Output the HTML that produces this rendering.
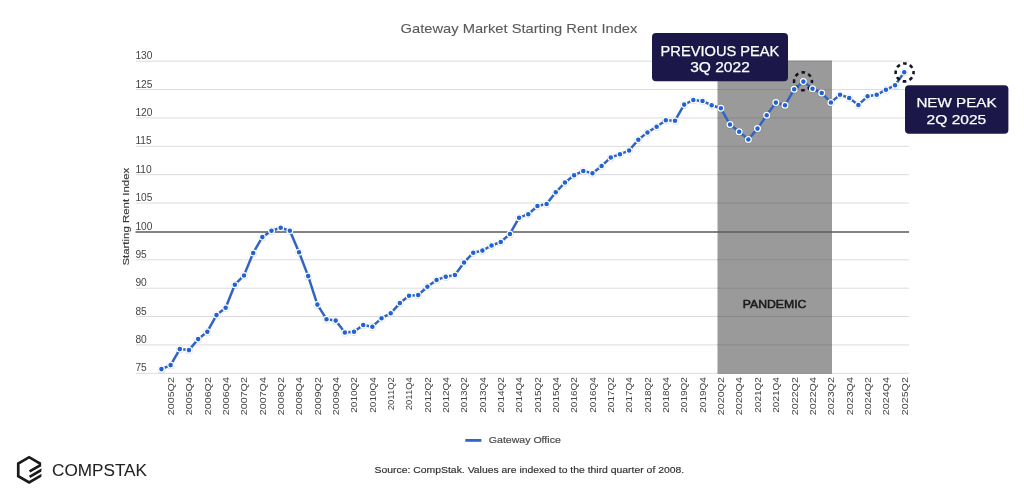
<!DOCTYPE html>
<html><head><meta charset="utf-8"><style>
html,body{margin:0;padding:0;background:#fff;}
body{width:1024px;height:492px;overflow:hidden;}
svg{display:block;font-family:"Liberation Sans", sans-serif;will-change:transform;}
</style></head><body>
<svg width="1024" height="492" viewBox="0 0 1024 492">
<line x1="136" x2="909" y1="373.30" y2="373.30" stroke="#dcdcdc" stroke-width="1"/>
<line x1="136" x2="909" y1="344.93" y2="344.93" stroke="#dcdcdc" stroke-width="1"/>
<line x1="136" x2="909" y1="316.55" y2="316.55" stroke="#dcdcdc" stroke-width="1"/>
<line x1="136" x2="909" y1="288.18" y2="288.18" stroke="#dcdcdc" stroke-width="1"/>
<line x1="136" x2="909" y1="259.81" y2="259.81" stroke="#dcdcdc" stroke-width="1"/>
<line x1="136" x2="909" y1="203.06" y2="203.06" stroke="#dcdcdc" stroke-width="1"/>
<line x1="136" x2="909" y1="174.69" y2="174.69" stroke="#dcdcdc" stroke-width="1"/>
<line x1="136" x2="909" y1="146.32" y2="146.32" stroke="#dcdcdc" stroke-width="1"/>
<line x1="136" x2="909" y1="117.95" y2="117.95" stroke="#dcdcdc" stroke-width="1"/>
<line x1="136" x2="909" y1="89.57" y2="89.57" stroke="#dcdcdc" stroke-width="1"/>
<line x1="136" x2="909" y1="61.20" y2="61.20" stroke="#dcdcdc" stroke-width="1"/>
<rect x="717.5" y="60.70" width="114.5" height="312.60" fill="#9a9a9a"/>
<line x1="717.5" x2="832" y1="373.30" y2="373.30" stroke="#8a8a8a" stroke-width="1"/>
<line x1="717.5" x2="832" y1="344.93" y2="344.93" stroke="#8a8a8a" stroke-width="1"/>
<line x1="717.5" x2="832" y1="316.55" y2="316.55" stroke="#8a8a8a" stroke-width="1"/>
<line x1="717.5" x2="832" y1="288.18" y2="288.18" stroke="#8a8a8a" stroke-width="1"/>
<line x1="717.5" x2="832" y1="259.81" y2="259.81" stroke="#8a8a8a" stroke-width="1"/>
<line x1="717.5" x2="832" y1="203.06" y2="203.06" stroke="#8a8a8a" stroke-width="1"/>
<line x1="717.5" x2="832" y1="174.69" y2="174.69" stroke="#8a8a8a" stroke-width="1"/>
<line x1="717.5" x2="832" y1="146.32" y2="146.32" stroke="#8a8a8a" stroke-width="1"/>
<line x1="717.5" x2="832" y1="117.95" y2="117.95" stroke="#8a8a8a" stroke-width="1"/>
<line x1="717.5" x2="832" y1="89.57" y2="89.57" stroke="#8a8a8a" stroke-width="1"/>
<line x1="717.5" x2="832" y1="61.20" y2="61.20" stroke="#8a8a8a" stroke-width="1"/>
<line x1="135.5" x2="909" y1="232.00" y2="232.00" stroke="#5a5a5a" stroke-width="1.6"/>
<text x="135.4" y="371.30" font-size="10.2" fill="#444">75</text>
<text x="135.4" y="342.93" font-size="10.2" fill="#444">80</text>
<text x="135.4" y="314.55" font-size="10.2" fill="#444">85</text>
<text x="135.4" y="286.18" font-size="10.2" fill="#444">90</text>
<text x="135.4" y="257.81" font-size="10.2" fill="#444">95</text>
<text x="135.4" y="230.00" font-size="10.2" fill="#444">100</text>
<text x="135.4" y="201.06" font-size="10.2" fill="#444">105</text>
<text x="135.4" y="172.69" font-size="10.2" fill="#444">110</text>
<text x="135.4" y="144.32" font-size="10.2" fill="#444">115</text>
<text x="135.4" y="115.95" font-size="10.2" fill="#444">120</text>
<text x="135.4" y="87.57" font-size="10.2" fill="#444">125</text>
<text x="135.4" y="59.20" font-size="10.2" fill="#444">130</text>
<text transform="translate(129.3,265.6) rotate(-90)" font-size="9.8" fill="#3a3a3a" stroke="#3a3a3a" stroke-width="0.15" textLength="97.8" lengthAdjust="spacingAndGlyphs">Starting Rent Index</text>
<text transform="translate(173.94,415.20) rotate(-90)" font-size="9.8" fill="#444" textLength="38.10" lengthAdjust="spacingAndGlyphs">2005Q2</text>
<text transform="translate(192.28,415.20) rotate(-90)" font-size="9.8" fill="#444" textLength="38.10" lengthAdjust="spacingAndGlyphs">2005Q4</text>
<text transform="translate(210.62,415.20) rotate(-90)" font-size="9.8" fill="#444" textLength="38.10" lengthAdjust="spacingAndGlyphs">2006Q2</text>
<text transform="translate(228.96,415.20) rotate(-90)" font-size="9.8" fill="#444" textLength="38.10" lengthAdjust="spacingAndGlyphs">2006Q4</text>
<text transform="translate(247.30,415.20) rotate(-90)" font-size="9.8" fill="#444" textLength="38.10" lengthAdjust="spacingAndGlyphs">2007Q2</text>
<text transform="translate(265.64,415.20) rotate(-90)" font-size="9.8" fill="#444" textLength="38.10" lengthAdjust="spacingAndGlyphs">2007Q4</text>
<text transform="translate(283.98,415.20) rotate(-90)" font-size="9.8" fill="#444" textLength="38.10" lengthAdjust="spacingAndGlyphs">2008Q2</text>
<text transform="translate(302.32,415.20) rotate(-90)" font-size="9.8" fill="#444" textLength="38.10" lengthAdjust="spacingAndGlyphs">2008Q4</text>
<text transform="translate(320.66,415.20) rotate(-90)" font-size="9.8" fill="#444" textLength="38.10" lengthAdjust="spacingAndGlyphs">2009Q2</text>
<text transform="translate(339.00,415.20) rotate(-90)" font-size="9.8" fill="#444" textLength="38.10" lengthAdjust="spacingAndGlyphs">2009Q4</text>
<text transform="translate(357.34,412.70) rotate(-90)" font-size="9.8" fill="#444" textLength="35.60" lengthAdjust="spacingAndGlyphs">2010Q2</text>
<text transform="translate(375.68,412.70) rotate(-90)" font-size="9.8" fill="#444" textLength="35.60" lengthAdjust="spacingAndGlyphs">2010Q4</text>
<text transform="translate(394.02,410.20) rotate(-90)" font-size="9.8" fill="#444" textLength="33.10" lengthAdjust="spacingAndGlyphs">2011Q2</text>
<text transform="translate(412.36,410.20) rotate(-90)" font-size="9.8" fill="#444" textLength="33.10" lengthAdjust="spacingAndGlyphs">2011Q4</text>
<text transform="translate(430.70,412.70) rotate(-90)" font-size="9.8" fill="#444" textLength="35.60" lengthAdjust="spacingAndGlyphs">2012Q2</text>
<text transform="translate(449.04,412.70) rotate(-90)" font-size="9.8" fill="#444" textLength="35.60" lengthAdjust="spacingAndGlyphs">2012Q4</text>
<text transform="translate(467.38,412.70) rotate(-90)" font-size="9.8" fill="#444" textLength="35.60" lengthAdjust="spacingAndGlyphs">2013Q2</text>
<text transform="translate(485.72,412.70) rotate(-90)" font-size="9.8" fill="#444" textLength="35.60" lengthAdjust="spacingAndGlyphs">2013Q4</text>
<text transform="translate(504.06,412.70) rotate(-90)" font-size="9.8" fill="#444" textLength="35.60" lengthAdjust="spacingAndGlyphs">2014Q2</text>
<text transform="translate(522.40,412.70) rotate(-90)" font-size="9.8" fill="#444" textLength="35.60" lengthAdjust="spacingAndGlyphs">2014Q4</text>
<text transform="translate(540.74,412.70) rotate(-90)" font-size="9.8" fill="#444" textLength="35.60" lengthAdjust="spacingAndGlyphs">2015Q2</text>
<text transform="translate(559.08,412.70) rotate(-90)" font-size="9.8" fill="#444" textLength="35.60" lengthAdjust="spacingAndGlyphs">2015Q4</text>
<text transform="translate(577.42,412.70) rotate(-90)" font-size="9.8" fill="#444" textLength="35.60" lengthAdjust="spacingAndGlyphs">2016Q2</text>
<text transform="translate(595.76,412.70) rotate(-90)" font-size="9.8" fill="#444" textLength="35.60" lengthAdjust="spacingAndGlyphs">2016Q4</text>
<text transform="translate(614.10,412.70) rotate(-90)" font-size="9.8" fill="#444" textLength="35.60" lengthAdjust="spacingAndGlyphs">2017Q2</text>
<text transform="translate(632.44,412.70) rotate(-90)" font-size="9.8" fill="#444" textLength="35.60" lengthAdjust="spacingAndGlyphs">2017Q4</text>
<text transform="translate(650.78,412.70) rotate(-90)" font-size="9.8" fill="#444" textLength="35.60" lengthAdjust="spacingAndGlyphs">2018Q2</text>
<text transform="translate(669.12,412.70) rotate(-90)" font-size="9.8" fill="#444" textLength="35.60" lengthAdjust="spacingAndGlyphs">2018Q4</text>
<text transform="translate(687.46,412.70) rotate(-90)" font-size="9.8" fill="#444" textLength="35.60" lengthAdjust="spacingAndGlyphs">2019Q2</text>
<text transform="translate(705.80,412.70) rotate(-90)" font-size="9.8" fill="#444" textLength="35.60" lengthAdjust="spacingAndGlyphs">2019Q4</text>
<text transform="translate(724.14,415.20) rotate(-90)" font-size="9.8" fill="#444" textLength="38.10" lengthAdjust="spacingAndGlyphs">2020Q2</text>
<text transform="translate(742.48,415.20) rotate(-90)" font-size="9.8" fill="#444" textLength="38.10" lengthAdjust="spacingAndGlyphs">2020Q4</text>
<text transform="translate(760.82,412.70) rotate(-90)" font-size="9.8" fill="#444" textLength="35.60" lengthAdjust="spacingAndGlyphs">2021Q2</text>
<text transform="translate(779.16,412.70) rotate(-90)" font-size="9.8" fill="#444" textLength="35.60" lengthAdjust="spacingAndGlyphs">2021Q4</text>
<text transform="translate(797.50,415.20) rotate(-90)" font-size="9.8" fill="#444" textLength="38.10" lengthAdjust="spacingAndGlyphs">2022Q2</text>
<text transform="translate(815.84,415.20) rotate(-90)" font-size="9.8" fill="#444" textLength="38.10" lengthAdjust="spacingAndGlyphs">2022Q4</text>
<text transform="translate(834.18,415.20) rotate(-90)" font-size="9.8" fill="#444" textLength="38.10" lengthAdjust="spacingAndGlyphs">2023Q2</text>
<text transform="translate(852.52,415.20) rotate(-90)" font-size="9.8" fill="#444" textLength="38.10" lengthAdjust="spacingAndGlyphs">2023Q4</text>
<text transform="translate(870.86,415.20) rotate(-90)" font-size="9.8" fill="#444" textLength="38.10" lengthAdjust="spacingAndGlyphs">2024Q2</text>
<text transform="translate(889.20,415.20) rotate(-90)" font-size="9.8" fill="#444" textLength="38.10" lengthAdjust="spacingAndGlyphs">2024Q4</text>
<text transform="translate(907.54,415.20) rotate(-90)" font-size="9.8" fill="#444" textLength="38.10" lengthAdjust="spacingAndGlyphs">2025Q2</text>
<text x="742.8" y="307.6" font-size="10.7" fill="#1a1a1a" stroke="#1a1a1a" stroke-width="0.5" textLength="63.6" lengthAdjust="spacingAndGlyphs">PANDEMIC</text>
<polyline points="161.47,369.10 170.64,365.10 179.81,349.10 188.98,350.10 198.15,339.10 207.32,331.70 216.49,315.10 225.66,307.80 234.83,284.70 244.00,275.40 253.17,253.00 262.34,237.10 271.51,230.70 280.68,227.80 289.85,230.70 299.02,252.20 308.19,276.10 317.36,304.60 326.53,319.20 335.70,320.60 344.87,332.40 354.04,331.70 363.21,325.00 372.38,326.70 381.55,318.20 390.72,313.30 399.89,303.10 409.06,295.80 418.23,295.00 427.40,286.70 436.57,279.90 445.74,276.70 454.91,275.00 464.08,262.40 473.25,252.70 482.42,250.60 491.59,245.50 500.76,242.00 509.93,233.90 519.10,217.70 528.27,214.20 537.44,206.00 546.61,203.90 555.78,192.30 564.95,182.50 574.12,175.30 583.29,170.90 592.46,173.20 601.63,166.00 610.80,157.40 619.97,154.30 629.14,150.40 638.31,139.80 647.48,132.40 656.65,126.70 665.82,120.30 674.99,120.70 684.16,104.60 693.33,100.00 702.50,100.90 711.67,105.30 720.84,108.30 730.01,124.50 739.18,131.70 748.35,139.40 757.52,128.60 766.69,115.20 775.86,102.60 785.03,105.20 794.20,89.30 803.37,81.60 812.54,88.80 821.71,93.00 830.88,102.40 840.05,94.80 849.22,97.90 858.39,104.90 867.56,96.30 876.73,94.80 885.90,89.70 895.07,85.30 904.24,72.30" fill="none" stroke="#3164c4" stroke-width="2.5" stroke-linejoin="round"/>
<circle cx="803.0" cy="81.3" r="8.95" fill="none" stroke="#15152a" stroke-width="2.6" stroke-dasharray="3.700 3.329" stroke-dashoffset="1.850"/>
<circle cx="904.6" cy="72.4" r="8.95" fill="none" stroke="#15152a" stroke-width="2.6" stroke-dasharray="3.700 3.329" stroke-dashoffset="1.850"/>
<circle cx="161.47" cy="369.40" r="3.9" fill="rgba(0,0,30,0.13)"/>
<circle cx="170.64" cy="365.40" r="3.9" fill="rgba(0,0,30,0.13)"/>
<circle cx="179.81" cy="349.40" r="3.9" fill="rgba(0,0,30,0.13)"/>
<circle cx="188.98" cy="350.40" r="3.9" fill="rgba(0,0,30,0.13)"/>
<circle cx="198.15" cy="339.40" r="3.9" fill="rgba(0,0,30,0.13)"/>
<circle cx="207.32" cy="332.00" r="3.9" fill="rgba(0,0,30,0.13)"/>
<circle cx="216.49" cy="315.40" r="3.9" fill="rgba(0,0,30,0.13)"/>
<circle cx="225.66" cy="308.10" r="3.9" fill="rgba(0,0,30,0.13)"/>
<circle cx="234.83" cy="285.00" r="3.9" fill="rgba(0,0,30,0.13)"/>
<circle cx="244.00" cy="275.70" r="3.9" fill="rgba(0,0,30,0.13)"/>
<circle cx="253.17" cy="253.30" r="3.9" fill="rgba(0,0,30,0.13)"/>
<circle cx="262.34" cy="237.40" r="3.9" fill="rgba(0,0,30,0.13)"/>
<circle cx="271.51" cy="231.00" r="3.9" fill="rgba(0,0,30,0.13)"/>
<circle cx="280.68" cy="228.10" r="3.9" fill="rgba(0,0,30,0.13)"/>
<circle cx="289.85" cy="231.00" r="3.9" fill="rgba(0,0,30,0.13)"/>
<circle cx="299.02" cy="252.50" r="3.9" fill="rgba(0,0,30,0.13)"/>
<circle cx="308.19" cy="276.40" r="3.9" fill="rgba(0,0,30,0.13)"/>
<circle cx="317.36" cy="304.90" r="3.9" fill="rgba(0,0,30,0.13)"/>
<circle cx="326.53" cy="319.50" r="3.9" fill="rgba(0,0,30,0.13)"/>
<circle cx="335.70" cy="320.90" r="3.9" fill="rgba(0,0,30,0.13)"/>
<circle cx="344.87" cy="332.70" r="3.9" fill="rgba(0,0,30,0.13)"/>
<circle cx="354.04" cy="332.00" r="3.9" fill="rgba(0,0,30,0.13)"/>
<circle cx="363.21" cy="325.30" r="3.9" fill="rgba(0,0,30,0.13)"/>
<circle cx="372.38" cy="327.00" r="3.9" fill="rgba(0,0,30,0.13)"/>
<circle cx="381.55" cy="318.50" r="3.9" fill="rgba(0,0,30,0.13)"/>
<circle cx="390.72" cy="313.60" r="3.9" fill="rgba(0,0,30,0.13)"/>
<circle cx="399.89" cy="303.40" r="3.9" fill="rgba(0,0,30,0.13)"/>
<circle cx="409.06" cy="296.10" r="3.9" fill="rgba(0,0,30,0.13)"/>
<circle cx="418.23" cy="295.30" r="3.9" fill="rgba(0,0,30,0.13)"/>
<circle cx="427.40" cy="287.00" r="3.9" fill="rgba(0,0,30,0.13)"/>
<circle cx="436.57" cy="280.20" r="3.9" fill="rgba(0,0,30,0.13)"/>
<circle cx="445.74" cy="277.00" r="3.9" fill="rgba(0,0,30,0.13)"/>
<circle cx="454.91" cy="275.30" r="3.9" fill="rgba(0,0,30,0.13)"/>
<circle cx="464.08" cy="262.70" r="3.9" fill="rgba(0,0,30,0.13)"/>
<circle cx="473.25" cy="253.00" r="3.9" fill="rgba(0,0,30,0.13)"/>
<circle cx="482.42" cy="250.90" r="3.9" fill="rgba(0,0,30,0.13)"/>
<circle cx="491.59" cy="245.80" r="3.9" fill="rgba(0,0,30,0.13)"/>
<circle cx="500.76" cy="242.30" r="3.9" fill="rgba(0,0,30,0.13)"/>
<circle cx="509.93" cy="234.20" r="3.9" fill="rgba(0,0,30,0.13)"/>
<circle cx="519.10" cy="218.00" r="3.9" fill="rgba(0,0,30,0.13)"/>
<circle cx="528.27" cy="214.50" r="3.9" fill="rgba(0,0,30,0.13)"/>
<circle cx="537.44" cy="206.30" r="3.9" fill="rgba(0,0,30,0.13)"/>
<circle cx="546.61" cy="204.20" r="3.9" fill="rgba(0,0,30,0.13)"/>
<circle cx="555.78" cy="192.60" r="3.9" fill="rgba(0,0,30,0.13)"/>
<circle cx="564.95" cy="182.80" r="3.9" fill="rgba(0,0,30,0.13)"/>
<circle cx="574.12" cy="175.60" r="3.9" fill="rgba(0,0,30,0.13)"/>
<circle cx="583.29" cy="171.20" r="3.9" fill="rgba(0,0,30,0.13)"/>
<circle cx="592.46" cy="173.50" r="3.9" fill="rgba(0,0,30,0.13)"/>
<circle cx="601.63" cy="166.30" r="3.9" fill="rgba(0,0,30,0.13)"/>
<circle cx="610.80" cy="157.70" r="3.9" fill="rgba(0,0,30,0.13)"/>
<circle cx="619.97" cy="154.60" r="3.9" fill="rgba(0,0,30,0.13)"/>
<circle cx="629.14" cy="150.70" r="3.9" fill="rgba(0,0,30,0.13)"/>
<circle cx="638.31" cy="140.10" r="3.9" fill="rgba(0,0,30,0.13)"/>
<circle cx="647.48" cy="132.70" r="3.9" fill="rgba(0,0,30,0.13)"/>
<circle cx="656.65" cy="127.00" r="3.9" fill="rgba(0,0,30,0.13)"/>
<circle cx="665.82" cy="120.60" r="3.9" fill="rgba(0,0,30,0.13)"/>
<circle cx="674.99" cy="121.00" r="3.9" fill="rgba(0,0,30,0.13)"/>
<circle cx="684.16" cy="104.90" r="3.9" fill="rgba(0,0,30,0.13)"/>
<circle cx="693.33" cy="100.30" r="3.9" fill="rgba(0,0,30,0.13)"/>
<circle cx="702.50" cy="101.20" r="3.9" fill="rgba(0,0,30,0.13)"/>
<circle cx="711.67" cy="105.60" r="3.9" fill="rgba(0,0,30,0.13)"/>
<circle cx="720.84" cy="108.60" r="3.9" fill="rgba(0,0,30,0.13)"/>
<circle cx="730.01" cy="124.80" r="3.9" fill="rgba(0,0,30,0.13)"/>
<circle cx="739.18" cy="132.00" r="3.9" fill="rgba(0,0,30,0.13)"/>
<circle cx="748.35" cy="139.70" r="3.9" fill="rgba(0,0,30,0.13)"/>
<circle cx="757.52" cy="128.90" r="3.9" fill="rgba(0,0,30,0.13)"/>
<circle cx="766.69" cy="115.50" r="3.9" fill="rgba(0,0,30,0.13)"/>
<circle cx="775.86" cy="102.90" r="3.9" fill="rgba(0,0,30,0.13)"/>
<circle cx="785.03" cy="105.50" r="3.9" fill="rgba(0,0,30,0.13)"/>
<circle cx="794.20" cy="89.60" r="3.9" fill="rgba(0,0,30,0.13)"/>
<circle cx="803.37" cy="81.90" r="3.9" fill="rgba(0,0,30,0.13)"/>
<circle cx="812.54" cy="89.10" r="3.9" fill="rgba(0,0,30,0.13)"/>
<circle cx="821.71" cy="93.30" r="3.9" fill="rgba(0,0,30,0.13)"/>
<circle cx="830.88" cy="102.70" r="3.9" fill="rgba(0,0,30,0.13)"/>
<circle cx="840.05" cy="95.10" r="3.9" fill="rgba(0,0,30,0.13)"/>
<circle cx="849.22" cy="98.20" r="3.9" fill="rgba(0,0,30,0.13)"/>
<circle cx="858.39" cy="105.20" r="3.9" fill="rgba(0,0,30,0.13)"/>
<circle cx="867.56" cy="96.60" r="3.9" fill="rgba(0,0,30,0.13)"/>
<circle cx="876.73" cy="95.10" r="3.9" fill="rgba(0,0,30,0.13)"/>
<circle cx="885.90" cy="90.00" r="3.9" fill="rgba(0,0,30,0.13)"/>
<circle cx="895.07" cy="85.60" r="3.9" fill="rgba(0,0,30,0.13)"/>
<circle cx="904.24" cy="72.60" r="3.9" fill="rgba(0,0,30,0.13)"/>
<circle cx="161.47" cy="369.10" r="2.9" fill="#2163d4" stroke="#fff" stroke-width="1.25"/>
<circle cx="170.64" cy="365.10" r="2.9" fill="#2163d4" stroke="#fff" stroke-width="1.25"/>
<circle cx="179.81" cy="349.10" r="2.9" fill="#2163d4" stroke="#fff" stroke-width="1.25"/>
<circle cx="188.98" cy="350.10" r="2.9" fill="#2163d4" stroke="#fff" stroke-width="1.25"/>
<circle cx="198.15" cy="339.10" r="2.9" fill="#2163d4" stroke="#fff" stroke-width="1.25"/>
<circle cx="207.32" cy="331.70" r="2.9" fill="#2163d4" stroke="#fff" stroke-width="1.25"/>
<circle cx="216.49" cy="315.10" r="2.9" fill="#2163d4" stroke="#fff" stroke-width="1.25"/>
<circle cx="225.66" cy="307.80" r="2.9" fill="#2163d4" stroke="#fff" stroke-width="1.25"/>
<circle cx="234.83" cy="284.70" r="2.9" fill="#2163d4" stroke="#fff" stroke-width="1.25"/>
<circle cx="244.00" cy="275.40" r="2.9" fill="#2163d4" stroke="#fff" stroke-width="1.25"/>
<circle cx="253.17" cy="253.00" r="2.9" fill="#2163d4" stroke="#fff" stroke-width="1.25"/>
<circle cx="262.34" cy="237.10" r="2.9" fill="#2163d4" stroke="#fff" stroke-width="1.25"/>
<circle cx="271.51" cy="230.70" r="2.9" fill="#2163d4" stroke="#fff" stroke-width="1.25"/>
<circle cx="280.68" cy="227.80" r="2.9" fill="#2163d4" stroke="#fff" stroke-width="1.25"/>
<circle cx="289.85" cy="230.70" r="2.9" fill="#2163d4" stroke="#fff" stroke-width="1.25"/>
<circle cx="299.02" cy="252.20" r="2.9" fill="#2163d4" stroke="#fff" stroke-width="1.25"/>
<circle cx="308.19" cy="276.10" r="2.9" fill="#2163d4" stroke="#fff" stroke-width="1.25"/>
<circle cx="317.36" cy="304.60" r="2.9" fill="#2163d4" stroke="#fff" stroke-width="1.25"/>
<circle cx="326.53" cy="319.20" r="2.9" fill="#2163d4" stroke="#fff" stroke-width="1.25"/>
<circle cx="335.70" cy="320.60" r="2.9" fill="#2163d4" stroke="#fff" stroke-width="1.25"/>
<circle cx="344.87" cy="332.40" r="2.9" fill="#2163d4" stroke="#fff" stroke-width="1.25"/>
<circle cx="354.04" cy="331.70" r="2.9" fill="#2163d4" stroke="#fff" stroke-width="1.25"/>
<circle cx="363.21" cy="325.00" r="2.9" fill="#2163d4" stroke="#fff" stroke-width="1.25"/>
<circle cx="372.38" cy="326.70" r="2.9" fill="#2163d4" stroke="#fff" stroke-width="1.25"/>
<circle cx="381.55" cy="318.20" r="2.9" fill="#2163d4" stroke="#fff" stroke-width="1.25"/>
<circle cx="390.72" cy="313.30" r="2.9" fill="#2163d4" stroke="#fff" stroke-width="1.25"/>
<circle cx="399.89" cy="303.10" r="2.9" fill="#2163d4" stroke="#fff" stroke-width="1.25"/>
<circle cx="409.06" cy="295.80" r="2.9" fill="#2163d4" stroke="#fff" stroke-width="1.25"/>
<circle cx="418.23" cy="295.00" r="2.9" fill="#2163d4" stroke="#fff" stroke-width="1.25"/>
<circle cx="427.40" cy="286.70" r="2.9" fill="#2163d4" stroke="#fff" stroke-width="1.25"/>
<circle cx="436.57" cy="279.90" r="2.9" fill="#2163d4" stroke="#fff" stroke-width="1.25"/>
<circle cx="445.74" cy="276.70" r="2.9" fill="#2163d4" stroke="#fff" stroke-width="1.25"/>
<circle cx="454.91" cy="275.00" r="2.9" fill="#2163d4" stroke="#fff" stroke-width="1.25"/>
<circle cx="464.08" cy="262.40" r="2.9" fill="#2163d4" stroke="#fff" stroke-width="1.25"/>
<circle cx="473.25" cy="252.70" r="2.9" fill="#2163d4" stroke="#fff" stroke-width="1.25"/>
<circle cx="482.42" cy="250.60" r="2.9" fill="#2163d4" stroke="#fff" stroke-width="1.25"/>
<circle cx="491.59" cy="245.50" r="2.9" fill="#2163d4" stroke="#fff" stroke-width="1.25"/>
<circle cx="500.76" cy="242.00" r="2.9" fill="#2163d4" stroke="#fff" stroke-width="1.25"/>
<circle cx="509.93" cy="233.90" r="2.9" fill="#2163d4" stroke="#fff" stroke-width="1.25"/>
<circle cx="519.10" cy="217.70" r="2.9" fill="#2163d4" stroke="#fff" stroke-width="1.25"/>
<circle cx="528.27" cy="214.20" r="2.9" fill="#2163d4" stroke="#fff" stroke-width="1.25"/>
<circle cx="537.44" cy="206.00" r="2.9" fill="#2163d4" stroke="#fff" stroke-width="1.25"/>
<circle cx="546.61" cy="203.90" r="2.9" fill="#2163d4" stroke="#fff" stroke-width="1.25"/>
<circle cx="555.78" cy="192.30" r="2.9" fill="#2163d4" stroke="#fff" stroke-width="1.25"/>
<circle cx="564.95" cy="182.50" r="2.9" fill="#2163d4" stroke="#fff" stroke-width="1.25"/>
<circle cx="574.12" cy="175.30" r="2.9" fill="#2163d4" stroke="#fff" stroke-width="1.25"/>
<circle cx="583.29" cy="170.90" r="2.9" fill="#2163d4" stroke="#fff" stroke-width="1.25"/>
<circle cx="592.46" cy="173.20" r="2.9" fill="#2163d4" stroke="#fff" stroke-width="1.25"/>
<circle cx="601.63" cy="166.00" r="2.9" fill="#2163d4" stroke="#fff" stroke-width="1.25"/>
<circle cx="610.80" cy="157.40" r="2.9" fill="#2163d4" stroke="#fff" stroke-width="1.25"/>
<circle cx="619.97" cy="154.30" r="2.9" fill="#2163d4" stroke="#fff" stroke-width="1.25"/>
<circle cx="629.14" cy="150.40" r="2.9" fill="#2163d4" stroke="#fff" stroke-width="1.25"/>
<circle cx="638.31" cy="139.80" r="2.9" fill="#2163d4" stroke="#fff" stroke-width="1.25"/>
<circle cx="647.48" cy="132.40" r="2.9" fill="#2163d4" stroke="#fff" stroke-width="1.25"/>
<circle cx="656.65" cy="126.70" r="2.9" fill="#2163d4" stroke="#fff" stroke-width="1.25"/>
<circle cx="665.82" cy="120.30" r="2.9" fill="#2163d4" stroke="#fff" stroke-width="1.25"/>
<circle cx="674.99" cy="120.70" r="2.9" fill="#2163d4" stroke="#fff" stroke-width="1.25"/>
<circle cx="684.16" cy="104.60" r="2.9" fill="#2163d4" stroke="#fff" stroke-width="1.25"/>
<circle cx="693.33" cy="100.00" r="2.9" fill="#2163d4" stroke="#fff" stroke-width="1.25"/>
<circle cx="702.50" cy="100.90" r="2.9" fill="#2163d4" stroke="#fff" stroke-width="1.25"/>
<circle cx="711.67" cy="105.30" r="2.9" fill="#2163d4" stroke="#fff" stroke-width="1.25"/>
<circle cx="720.84" cy="108.30" r="2.9" fill="#2163d4" stroke="#fff" stroke-width="1.25"/>
<circle cx="730.01" cy="124.50" r="2.9" fill="#2163d4" stroke="#fff" stroke-width="1.25"/>
<circle cx="739.18" cy="131.70" r="2.9" fill="#2163d4" stroke="#fff" stroke-width="1.25"/>
<circle cx="748.35" cy="139.40" r="2.9" fill="#2163d4" stroke="#fff" stroke-width="1.25"/>
<circle cx="757.52" cy="128.60" r="2.9" fill="#2163d4" stroke="#fff" stroke-width="1.25"/>
<circle cx="766.69" cy="115.20" r="2.9" fill="#2163d4" stroke="#fff" stroke-width="1.25"/>
<circle cx="775.86" cy="102.60" r="2.9" fill="#2163d4" stroke="#fff" stroke-width="1.25"/>
<circle cx="785.03" cy="105.20" r="2.9" fill="#2163d4" stroke="#fff" stroke-width="1.25"/>
<circle cx="794.20" cy="89.30" r="2.9" fill="#2163d4" stroke="#fff" stroke-width="1.25"/>
<circle cx="803.37" cy="81.60" r="2.9" fill="#2163d4" stroke="#fff" stroke-width="1.25"/>
<circle cx="812.54" cy="88.80" r="2.9" fill="#2163d4" stroke="#fff" stroke-width="1.25"/>
<circle cx="821.71" cy="93.00" r="2.9" fill="#2163d4" stroke="#fff" stroke-width="1.25"/>
<circle cx="830.88" cy="102.40" r="2.9" fill="#2163d4" stroke="#fff" stroke-width="1.25"/>
<circle cx="840.05" cy="94.80" r="2.9" fill="#2163d4" stroke="#fff" stroke-width="1.25"/>
<circle cx="849.22" cy="97.90" r="2.9" fill="#2163d4" stroke="#fff" stroke-width="1.25"/>
<circle cx="858.39" cy="104.90" r="2.9" fill="#2163d4" stroke="#fff" stroke-width="1.25"/>
<circle cx="867.56" cy="96.30" r="2.9" fill="#2163d4" stroke="#fff" stroke-width="1.25"/>
<circle cx="876.73" cy="94.80" r="2.9" fill="#2163d4" stroke="#fff" stroke-width="1.25"/>
<circle cx="885.90" cy="89.70" r="2.9" fill="#2163d4" stroke="#fff" stroke-width="1.25"/>
<circle cx="895.07" cy="85.30" r="2.9" fill="#2163d4" stroke="#fff" stroke-width="1.25"/>
<circle cx="904.24" cy="72.30" r="2.9" fill="#2163d4" stroke="#fff" stroke-width="1.25"/>
<rect x="652" y="33" width="136" height="48.3" rx="4" fill="#1b1849"/>
<text x="660.6" y="55.5" font-size="14.3" fill="#fff" stroke="#fff" stroke-width="0.25" textLength="118.8" lengthAdjust="spacingAndGlyphs">PREVIOUS PEAK</text>
<text x="690.2" y="72.3" font-size="14" fill="#fff" stroke="#fff" stroke-width="0.25" textLength="59.6" lengthAdjust="spacingAndGlyphs">3Q 2022</text>
<rect x="905" y="85.2" width="103.4" height="48.5" rx="4" fill="#1b1849"/>
<text x="916.4" y="107.4" font-size="13.3" fill="#fff" stroke="#fff" stroke-width="0.25" textLength="80.2" lengthAdjust="spacingAndGlyphs">NEW PEAK</text>
<text x="926.6" y="124.1" font-size="13.3" fill="#fff" stroke="#fff" stroke-width="0.25" textLength="59.6" lengthAdjust="spacingAndGlyphs">2Q 2025</text>
<text x="400.6" y="32.8" font-size="13" fill="#5a5a5a" stroke="#5a5a5a" stroke-width="0.1" textLength="236.8" lengthAdjust="spacingAndGlyphs">Gateway Market Starting Rent Index</text>
<line x1="465.3" x2="481.4" y1="440.4" y2="440.4" stroke="#2b67cf" stroke-width="2.8"/>
<text x="488.8" y="443.2" font-size="9.6" fill="#4a4a4a" stroke="#4a4a4a" stroke-width="0.2" textLength="72" lengthAdjust="spacingAndGlyphs">Gateway Office</text>
<text x="374.6" y="472.5" font-size="9.5" fill="#2e2e2e" stroke="#2e2e2e" stroke-width="0.15" textLength="309.6" lengthAdjust="spacingAndGlyphs">Source: CompStak. Values are indexed to the third quarter of 2008.</text>
<defs><clipPath id="lc"><rect x="10" y="450" width="31.4" height="40"/></clipPath></defs>
<g clip-path="url(#lc)" fill="none" stroke="#1a1a1a" stroke-width="2.7" stroke-linejoin="miter" stroke-miterlimit="10"><path d="M29.6,471.43 L40.05,465.4 L40.05,463.5 L29.15,457.2 L18.25,463.5 L18.25,476.15 L29.15,482.45 L43,474.45"/><path d="M29.6,476.83 L43,469.10"/></g>
<text x="52" y="475.6" font-size="15.8" fill="#222" stroke="#222" stroke-width="0.05" textLength="95" lengthAdjust="spacingAndGlyphs">COMPSTAK</text>
</svg>
</body></html>
